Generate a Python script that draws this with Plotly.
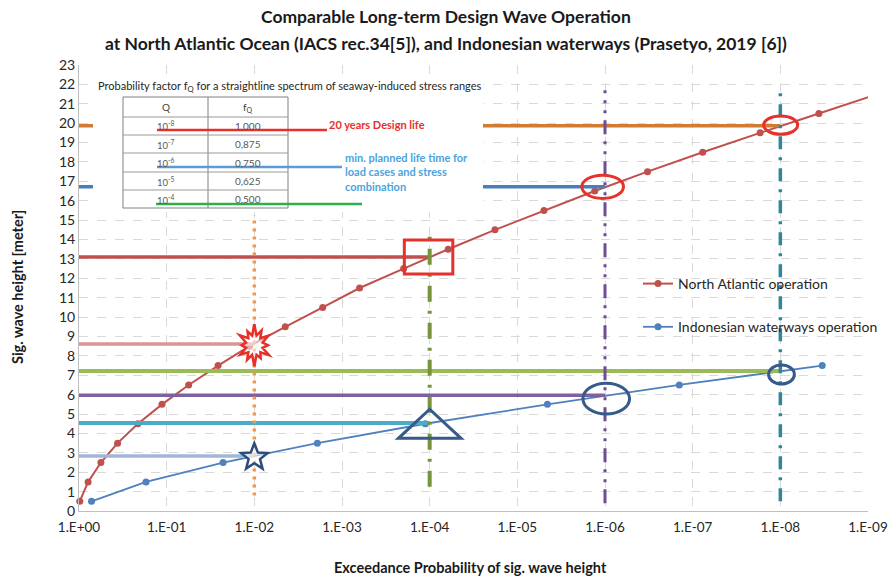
import math
import plotly.graph_objects as go

# ---------------- data ----------------
na_prob = [0.98, 0.787, 0.563, 0.363, 0.213, 0.113, 0.0561, 0.0259, 0.01138, 4.44e-3,
           1.66e-3, 6.3e-4, 1.98e-4, 6.15e-5, 1.80e-5, 4.97e-6, 1.31e-6, 3.27e-7,
           7.69e-8, 1.70e-8, 3.63e-9]
na_height = [0.5, 1.5, 2.5, 3.5, 4.5, 5.5, 6.5, 7.5, 8.5, 9.5, 10.5, 11.5, 12.5,
             13.5, 14.5, 15.5, 16.5, 17.5, 18.5, 19.5, 20.5]
# continuation of the North Atlantic curve beyond the right edge of the axis
na_tail_prob = [3.63e-9, 7.8e-10]
na_tail_height = [20.5, 21.5]

ind_prob = [0.72, 0.172, 0.0227, 1.91e-3, 1.12e-4, 4.54e-6, 1.42e-7, 3.33e-9]
ind_height = [0.5, 1.5, 2.5, 3.5, 4.5, 5.5, 6.5, 7.5]

x_tick_vals = [1, 1e-1, 1e-2, 1e-3, 1e-4, 1e-5, 1e-6, 1e-7, 1e-8, 1e-9]
x_tick_text = ["1.E+00", "1.E-01", "1.E-02", "1.E-03", "1.E-04",
               "1.E-05", "1.E-06", "1.E-07", "1.E-08", "1.E-09"]

# horizontal reference levels: height, end probability, colour, width
ref_heights = [19.87, 16.72, 13.1, 8.61, 7.22, 5.97, 4.54, 2.84]
ref_ends = [1e-8, 1e-6, 1e-4, 1e-2, 1e-8, 1e-6, 1e-4, 1e-2]
ref_colors = ["#D27B34", "#4A7EBB", "#C0504D", "#D99694",
              "#9BBB59", "#7E62A0", "#4BACC6", "#A2B7D8"]
ref_widths = [3.5, 3.5, 3.5, 3.5, 4, 3.5, 4, 3.5]

# vertical probability markers: probability, bottom, top, colour, dash, width
vline_prob = [1e-2, 1e-4, 1e-6, 1e-8]
vline_bottom = [0.8, 1.25, 0.4, 0.5]
vline_top = [15.25, 14.5, 21.7, 21.6]
vline_colors = ["#F79646", "#77933C", "#6E4E92", "#31859C"]
vline_dash = ["3px,5px", "16px,9px,3px,9px", "14px,7px,3px,7px,3px,7px", "13px,8px,3px,8px"]
vline_width = [3.5, 4, 3, 3.5]

# probability-factor table
table_q = ["10<sup>-8</sup>", "10<sup>-7</sup>", "10<sup>-6</sup>", "10<sup>-5</sup>", "10<sup>-4</sup>"]
table_fq = ["1,000", "0,875", "0,750", "0,625", "0,500"]

# ---------------- geometry of the plot frame (pixels) ----------------
W, H = 891, 580
L, R, T, B = 79, 868, 65, 511


def px_x(px):
    return (px - L) / (R - L)


def px_y(py):
    return (B - py) / (B - T)


FONT = "Lato"
RED_SHAPE = "#E5322A"
BLUE_SHAPE = "#375A8A"

fig = go.Figure()

# main series
fig.add_trace(go.Scatter(
    x=na_tail_prob, y=na_tail_height, mode="lines",
    line=dict(color="#C0504D", width=2), showlegend=False, hoverinfo="skip"))
fig.add_trace(go.Scatter(
    x=na_prob, y=na_height, mode="lines+markers", name="North Atlantic operation",
    line=dict(color="#C0504D", width=2),
    marker=dict(color="#C0504D", size=7),
    cliponaxis=False, legendgroup="na"))
fig.add_trace(go.Scatter(
    x=ind_prob, y=ind_height, mode="lines+markers", name="Indonesian waterways operation",
    line=dict(color="#4F81BD", width=1.8),
    marker=dict(color="#4F81BD", size=7),
    cliponaxis=False, legendgroup="ind"))

# horizontal reference lines
for h, pe, c, w in zip(ref_heights, ref_ends, ref_colors, ref_widths):
    fig.add_trace(go.Scatter(x=[1, pe], y=[h, h], mode="lines",
                             line=dict(color=c, width=w), showlegend=False,
                             hoverinfo="skip"))

# vertical probability lines
for p, y0, y1, c, d, w in zip(vline_prob, vline_bottom, vline_top, vline_colors, vline_dash, vline_width):
    fig.add_trace(go.Scatter(x=[p, p], y=[y0, y1], mode="lines",
                             line=dict(color=c, width=w, dash=d), showlegend=False,
                             hoverinfo="skip"))

shapes = []

# highlight marks around the intersections
shapes.append(dict(type="rect", xref="x", yref="y",
                   x0=10 ** -3.711, x1=10 ** -4.264, y0=12.22, y1=13.97,
                   line=dict(color=RED_SHAPE, width=3)))
shapes.append(dict(type="circle", xref="x", yref="y",
                   x0=10 ** -5.736, x1=10 ** -6.211, y0=16.12, y1=17.32,
                   line=dict(color=RED_SHAPE, width=3)))
shapes.append(dict(type="circle", xref="x", yref="y",
                   x0=10 ** -7.81, x1=10 ** -8.198, y0=19.43, y1=20.37,
                   line=dict(color=RED_SHAPE, width=3)))
shapes.append(dict(type="path", xref="x", yref="y",
                   path="M {a},{b} L {c},{b} L {d},{e} Z".format(
                       a=10 ** -3.643, b=3.75, c=10 ** -4.358, d=10 ** -4.0, e=5.25),
                   line=dict(color=BLUE_SHAPE, width=3)))
shapes.append(dict(type="circle", xref="x", yref="y",
                   x0=10 ** -5.748, x1=10 ** -6.28, y0=5.0, y1=6.59,
                   line=dict(color=BLUE_SHAPE, width=3)))
shapes.append(dict(type="circle", xref="x", yref="y",
                   x0=10 ** -7.866, x1=10 ** -8.16, y0=6.55, y1=7.53,
                   line=dict(color=BLUE_SHAPE, width=3)))


def star_path(r_out, r_in, n=5):
    pts = []
    for k in range(2 * n):
        r = r_out if k % 2 == 0 else r_in
        a = math.pi / 2 + k * math.pi / n
        pts.append((r * math.cos(a), r * math.sin(a)))
    return "M " + " L ".join(f"{x:.2f},{y:.2f}" for x, y in pts) + " Z"


def burst_path(radii_out, r_in, sx=0.85):
    n = len(radii_out)
    pts = []
    for k in range(n):
        a0 = math.pi / 2 + k * 2 * math.pi / n
        a1 = a0 + math.pi / n
        pts.append((sx * radii_out[k] * math.cos(a0), radii_out[k] * math.sin(a0)))
        pts.append((sx * r_in * math.cos(a1), r_in * math.sin(a1)))
    return "M " + " L ".join(f"{x:.2f},{y:.2f}" for x, y in pts) + " Z"


burst_radii = [21, 16, 20, 15, 19, 17, 21, 15, 20, 16, 19, 17]

shapes.append(dict(type="path", xref="x", yref="y", xsizemode="pixel", ysizemode="pixel",
                   xanchor=1e-2, yanchor=8.55, path=burst_path(burst_radii, 10),
                   fillcolor="rgba(255,255,255,0.55)",
                   line=dict(color="#E8302A", width=2.5)))
shapes.append(dict(type="path", xref="x", yref="y", xsizemode="pixel", ysizemode="pixel",
                   xanchor=1e-2, yanchor=2.77, path=star_path(14, 6),
                   fillcolor="rgba(255,255,255,0.6)",
                   line=dict(color="#2E4D7B", width=2.5)))

# inset panel with the probability-factor table
shapes.append(dict(type="rect", xref="paper", yref="paper", layer="above",
                   x0=px_x(93), x1=px_x(483), y0=px_y(212), y1=px_y(74),
                   fillcolor="white", line=dict(width=0)))
tbl_l, tbl_m, tbl_r = 123, 208, 288
row_edges = [97, 117, 135, 153, 172, 190, 208]
shapes.append(dict(type="rect", xref="paper", yref="paper",
                   x0=px_x(tbl_l), x1=px_x(tbl_r), y0=px_y(row_edges[-1]), y1=px_y(row_edges[0]),
                   line=dict(color="#808080", width=1)))
shapes.append(dict(type="line", xref="paper", yref="paper",
                   x0=px_x(tbl_m), x1=px_x(tbl_m), y0=px_y(row_edges[-1]), y1=px_y(row_edges[0]),
                   line=dict(color="#808080", width=1)))
for ry in row_edges[1:-1]:
    shapes.append(dict(type="line", xref="paper", yref="paper",
                       x0=px_x(tbl_l), x1=px_x(tbl_r), y0=px_y(ry), y1=px_y(ry),
                       line=dict(color="#9A9A9A", width=1)))

# coloured underlines tying the table rows to the notes
for (x0, x1, y, c) in [(157, 327, 130, "#E8302A"), (157, 342, 167, "#5B9BD5"), (156, 362, 204, "#2DB04B")]:
    shapes.append(dict(type="line", xref="paper", yref="paper",
                       x0=px_x(x0), x1=px_x(x1), y0=px_y(y), y1=px_y(y),
                       line=dict(color=c, width=2.5)))

annotations = []


def note(text, px, py, size, color="#333333", xanchor="center", bold=False, **kw):
    if bold:
        text = f"<b>{text}</b>"
    annotations.append(dict(text=text, x=px_x(px), y=px_y(py), xref="paper", yref="paper",
                            showarrow=False, xanchor=xanchor, yanchor="middle",
                            font=dict(family=FONT, size=size, color=color), **kw))


note("Probability factor f<sub>Q</sub> for a straightline spectrum of seaway-induced stress ranges",
     289, 86, 11, "#262626")
note("Q", (tbl_l + tbl_m) / 2, 107, 10, "#404040")
note("f<sub>Q</sub>", (tbl_m + tbl_r) / 2, 107, 10, "#404040")
for i, (q, f) in enumerate(zip(table_q, table_fq)):
    yc = (row_edges[i + 1] + row_edges[i + 2]) / 2
    note(q, (tbl_l + tbl_m) / 2, yc, 9.5, "#595959")
    note(f, (tbl_m + tbl_r) / 2, yc, 10, "#595959")
note("20 years Design life", 327, 124.5, 11, "#E8302A", xanchor="left", bold=True)
note("min. planned life time for<br>load cases and stress<br>combination", 343, 172, 11,
     "#4BA3DD", xanchor="left", bold=True, align="left")

# titles
note("Comparable Long-term Design Wave Operation", 445.5, 17, 17.5, "#1A1A1A", bold=True)
note("at North Atlantic Ocean (IACS rec.34[5]), and Indonesian waterways (Prasetyo, 2019 [6])",
     445.5, 43, 17.5, "#1A1A1A", bold=True)
note("Sig. wave height [meter]", 17, 287, 14.5, "#1A1A1A", bold=True, textangle=-90)
note("Exceedance Probability of sig. wave height", 470, 567, 14.5, "#1A1A1A", bold=True)

fig.update_layout(
    width=W, height=H,
    margin=dict(l=L, r=W - R, t=T, b=H - B, autoexpand=False),
    paper_bgcolor="white", plot_bgcolor="white",
    font=dict(family=FONT, size=14, color="#262626"),
    showlegend=True,
    legend=dict(x=px_x(638), y=px_y(268), xanchor="left", yanchor="top",
                traceorder="grouped", tracegroupgap=22, bgcolor="rgba(0,0,0,0)",
                font=dict(family=FONT, size=14, color="#262626")),
    shapes=shapes, annotations=annotations,
)
fig.update_xaxes(type="log", range=[0, -9], tickvals=x_tick_vals, ticktext=x_tick_text,
                 showgrid=True, gridcolor="#D9D9D9", griddash="dash", gridwidth=1,
                 showline=True, linecolor="#BFBFBF", linewidth=1, ticks="", automargin=False,
                 ticklabelstandoff=4,
                 tickfont=dict(family=FONT, size=13.5, color="#262626"), zeroline=False)
fig.update_yaxes(range=[0, 23], dtick=1, tick0=0, automargin=False,
                 showgrid=True, gridcolor="#D9D9D9", griddash="dash", gridwidth=1,
                 showline=True, linecolor="#BFBFBF", linewidth=1, ticks="",
                 tickfont=dict(family=FONT, size=14, color="#262626"), zeroline=False)

fig.write_html("out.html")
